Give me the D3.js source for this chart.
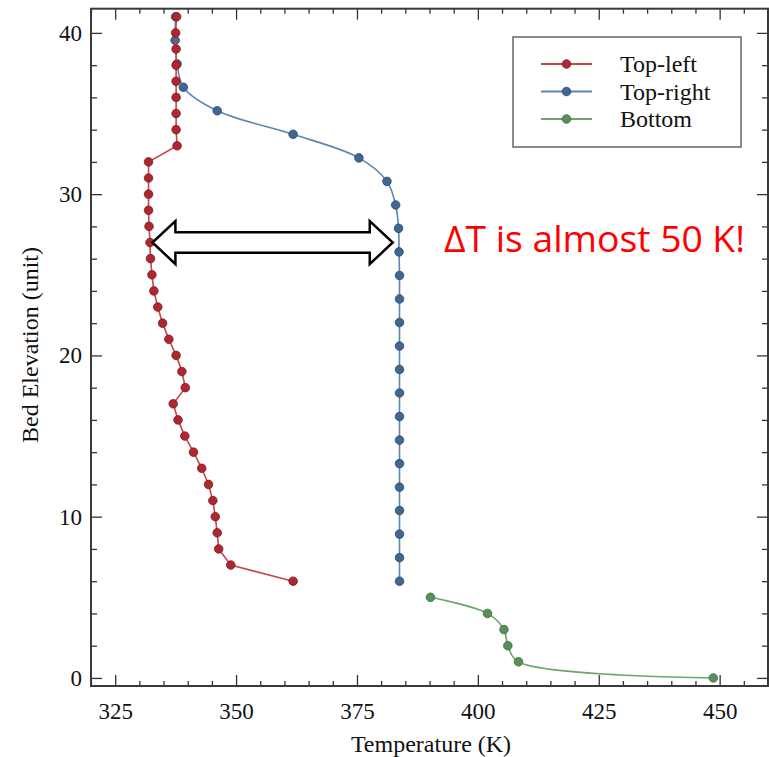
<!DOCTYPE html>
<html>
<head>
<meta charset="utf-8">
<script src="https://cdn.jsdelivr.net/npm/d3@7"></script>
<style>
  body { margin: 0; background: #fff; }
  svg text { font-family: "Liberation Serif", "Times New Roman", serif; }
</style>
</head>
<body>
<div id="chart"></div>
<script>
const width = 769;
const height = 757;

// Bed elevation / temperature readings for the three zones
const topLeftElev = [41, 40, 39, 38, 37, 36, 35, 34, 33, 32, 31, 30, 29, 28, 27, 26, 25, 24, 23, 22, 21,
    20, 19, 18, 17, 16, 15, 14, 13, 12, 11, 10, 9, 8, 7, 6];
const topLeftTemp = [337.7, 337.5, 337.6, 337.6, 337.6, 337.6, 337.6, 337.6, 337.8, 331.9, 331.9, 331.9,
    331.9, 332.0, 332.2, 332.3, 332.6, 333.0, 333.8, 334.8, 336.1, 337.6, 338.8, 339.5, 337.0, 338.0,
    339.4, 341.2, 342.9, 344.3, 345.2, 345.7, 346.1, 346.4, 348.9, 361.8];

const topRightElev = [6.0, 7.46, 8.92, 10.38, 11.83, 13.29, 14.75, 16.21, 17.67, 19.13, 20.58, 22.04,
    23.5, 24.96, 26.42, 27.88, 29.33, 30.79, 32.25, 33.71, 35.17, 36.63, 38.08, 39.54, 41.0];
const topRightTemp = [383.8, 383.8, 383.8, 383.8, 383.8, 383.8, 383.8, 383.8, 383.8, 383.8, 383.8, 383.8,
    383.8, 383.8, 383.7, 383.6, 383.0, 381.2, 375.4, 361.8, 346.1, 339.1, 337.8, 337.4, 337.5];

const bottomElev = [5, 4, 3, 2, 1, 0];
const bottomTemp = [390.2, 402.0, 405.4, 406.2, 408.4, 448.7];

const seriesNames = ["Top-left", "Top-right", "Bottom"];
const lineColors = ["#c4474d", "#5a88b3", "#6aa866"];
const dotColors = ["#b0262f", "#3f6792", "#55925a"];
const dotStrokes = ["#7d1a21", "#2b4a6b", "#3b6a3e"];

const xTicks = [325, 350, 375, 400, 425, 450];
const yTicks = [0, 10, 20, 30, 40];

const xScale = d3.scaleLinear().domain([320, 460]).range([91, 768]);
const yScale = d3.scaleLinear().domain([-0.5, 41.5]).range([686, 8.7]);

const svg = d3.select("#chart").append("svg")
    .attr("width", width)
    .attr("height", height);

// minor ticks
const xMinor = d3.range(320, 461, 5).filter(v => !xTicks.includes(v));
const yMinor = d3.range(0, 42, 2).filter(v => !yTicks.includes(v));

function styleAxis(g) {
    g.select(".domain").remove();
    g.selectAll(".tick line").attr("stroke", "#333").attr("stroke-width", 1.3);
    g.selectAll(".tick text")
        .attr("fill", "#111")
        .style("font-size", "23px")
        .style("font-family", "'Liberation Serif', serif");
}

// bottom axis
svg.append("g")
    .attr("transform", `translate(0, ${yScale.range()[0]})`)
    .call(d3.axisBottom(xScale).tickValues(xTicks).tickSize(-11).tickPadding(17).tickFormat(d3.format("d")))
    .call(styleAxis);
svg.append("g")
    .attr("transform", `translate(0, ${yScale.range()[0]})`)
    .call(d3.axisBottom(xScale).tickValues(xMinor).tickSize(-5).tickFormat(""))
    .call(styleAxis);
// top axis
svg.append("g")
    .attr("transform", `translate(0, ${yScale.range()[1]})`)
    .call(d3.axisTop(xScale).tickValues(xTicks).tickSize(-11).tickFormat(""))
    .call(styleAxis);
svg.append("g")
    .attr("transform", `translate(0, ${yScale.range()[1]})`)
    .call(d3.axisTop(xScale).tickValues(xMinor).tickSize(-5).tickFormat(""))
    .call(styleAxis);
// left axis
svg.append("g")
    .attr("transform", `translate(${xScale.range()[0]}, 0)`)
    .call(d3.axisLeft(yScale).tickValues(yTicks).tickSize(-11).tickPadding(9).tickFormat(d3.format("d")))
    .call(styleAxis);
svg.append("g")
    .attr("transform", `translate(${xScale.range()[0]}, 0)`)
    .call(d3.axisLeft(yScale).tickValues(yMinor).tickSize(-6).tickFormat(""))
    .call(styleAxis);
// right axis
svg.append("g")
    .attr("transform", `translate(${xScale.range()[1]}, 0)`)
    .call(d3.axisRight(yScale).tickValues(yTicks).tickSize(-11).tickFormat(""))
    .call(styleAxis);
svg.append("g")
    .attr("transform", `translate(${xScale.range()[1]}, 0)`)
    .call(d3.axisRight(yScale).tickValues(yMinor).tickSize(-6).tickFormat(""))
    .call(styleAxis);

// frame
svg.append("rect")
    .attr("x", xScale.range()[0])
    .attr("y", yScale.range()[1])
    .attr("width", xScale.range()[1] - xScale.range()[0])
    .attr("height", yScale.range()[0] - yScale.range()[1])
    .attr("fill", "none")
    .attr("stroke", "#3a3a3a")
    .attr("stroke-width", 2);

// axis titles
svg.append("text")
    .attr("x", 431)
    .attr("y", 752)
    .attr("text-anchor", "middle")
    .attr("fill", "#111")
    .style("font-size", "24px")
    .text("Temperature (K)");

svg.append("text")
    .attr("transform", "translate(38, 345) rotate(-90)")
    .attr("text-anchor", "middle")
    .attr("fill", "#111")
    .style("font-size", "24px")
    .text("Bed Elevation (unit)");

// series (red drawn last so it sits on top of blue at the top)
const allSeries = [
    { temp: topLeftTemp, elev: topLeftElev, curve: d3.curveLinear, idx: 0 },
    { temp: topRightTemp, elev: topRightElev, curve: d3.curveCatmullRom, idx: 1 },
    { temp: bottomTemp, elev: bottomElev, curve: d3.curveCatmullRom, idx: 2 }
];

allSeries.slice().reverse().forEach(s => {
    const i = s.idx;
    const points = s.temp.map((t, j) => ({ t: t, e: s.elev[j] }));
    const line = d3.line()
        .x(d => xScale(d.t))
        .y(d => yScale(d.e))
        .curve(s.curve);
    svg.append("path")
        .attr("d", line(points))
        .attr("fill", "none")
        .attr("stroke", lineColors[i])
        .attr("stroke-width", 1.6);
    svg.append("g").selectAll("circle")
        .data(points)
        .enter()
        .append("circle")
        .attr("cx", d => xScale(d.t))
        .attr("cy", d => yScale(d.e))
        .attr("r", 4.3)
        .attr("fill", dotColors[i])
        .attr("stroke", dotStrokes[i])
        .attr("stroke-width", 0.8);
});

// legend
const legend = svg.append("g");
legend.append("rect")
    .attr("x", 513)
    .attr("y", 37)
    .attr("width", 228)
    .attr("height", 110)
    .attr("fill", "#fff")
    .attr("stroke", "#666")
    .attr("stroke-width", 1.5);
seriesNames.forEach((name, i) => {
    const yy = 64 + i * 27.5;
    legend.append("line")
        .attr("x1", 541).attr("x2", 592)
        .attr("y1", yy).attr("y2", yy)
        .attr("stroke", lineColors[i])
        .attr("stroke-width", 2);
    legend.append("circle")
        .attr("cx", 566.5).attr("cy", yy)
        .attr("r", 4.3)
        .attr("fill", dotColors[i])
        .attr("stroke", dotStrokes[i])
        .attr("stroke-width", 0.8);
    legend.append("text")
        .attr("x", 620)
        .attr("y", yy + 8)
        .attr("fill", "#111")
        .style("font-size", "24px")
        .text(name);
});

// double arrow annotation
const arrowLeft = xScale(332.7);
const arrowRight = xScale(382.4);
const arrowY = yScale(27);
const headLen = 23, headHalf = 21.5, shaftHalf = 10.3;
const arrowPts = [
    [arrowLeft, arrowY],
    [arrowLeft + headLen, arrowY - headHalf],
    [arrowLeft + headLen, arrowY - shaftHalf],
    [arrowRight - headLen, arrowY - shaftHalf],
    [arrowRight - headLen, arrowY - headHalf],
    [arrowRight, arrowY],
    [arrowRight - headLen, arrowY + headHalf],
    [arrowRight - headLen, arrowY + shaftHalf],
    [arrowLeft + headLen, arrowY + shaftHalf],
    [arrowLeft + headLen, arrowY + headHalf]
];
svg.append("path")
    .attr("d", d3.line()(arrowPts) + "Z")
    .attr("fill", "#fff")
    .attr("stroke", "#000")
    .attr("stroke-width", 2.5)
    .attr("stroke-linejoin", "miter");

svg.append("text")
    .attr("x", 444)
    .attr("y", 252)
    .attr("fill", "#ff0000")
    .attr("textLength", 301)
    .attr("lengthAdjust", "spacingAndGlyphs")
    .style("font-family", "'Open Sans', 'Noto Sans', sans-serif")
    .style("font-size", "36px")
    .text("ΔT is almost 50 K!");
</script>
</body>
</html>
